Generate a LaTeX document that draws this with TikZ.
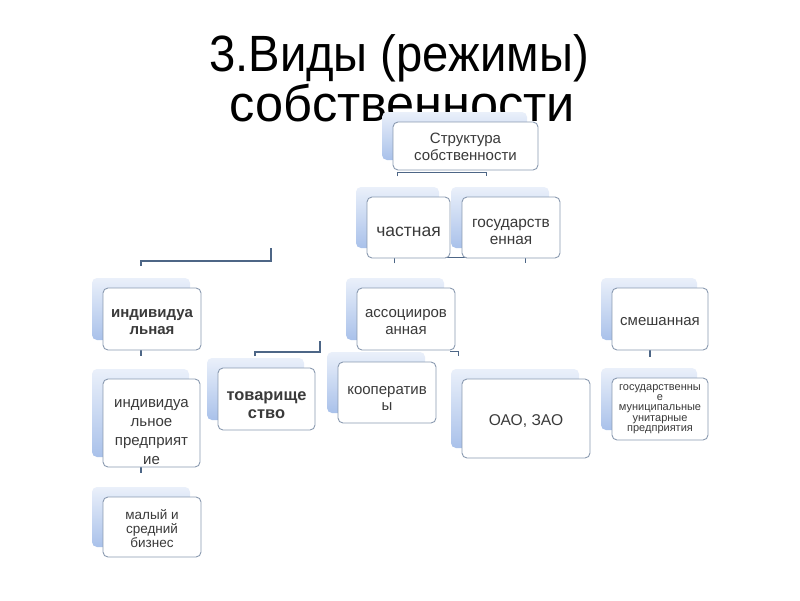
\documentclass[tikz,border=0pt]{standalone}
\usepackage{fontspec}
\setmainfont{Liberation Sans}
\usetikzlibrary{calc}
\definecolor{bkBlue}{HTML}{A9C1EA}
\definecolor{bkLight}{HTML}{EAF0FA}
\definecolor{frameC}{HTML}{8A9AB0}
\definecolor{connC}{HTML}{4D6686}
\definecolor{txtC}{HTML}{3A3A3A}
\pgfdeclarelayer{bg}
\pgfdeclarelayer{paper}
\pgfsetlayers{paper,bg,main}
\tikzset{
  backbox/.style={rounded corners=5pt, top color=bkLight, bottom color=bkBlue},
  frontbox/.style={draw=frameC, line width=0.9pt, fill=white, rounded corners=5pt, inner sep=0pt},
  lbl/.style={text=txtC, align=center, inner sep=0pt, font=\fontsize{15}{16.5}\selectfont},
  conn/.style={draw=connC, line width=1.6pt},
  titlefont/.style={font=\fontsize{51}{56}\selectfont, anchor=base, inner sep=0pt}
}
% #1 label style, #2 name, #3 text shift, #4-#7 box corners, #8 text
\newcommand\mkbox[8][]{%
  \pgfmathsetmacro\mkbw{#6-#4}%
  \pgfmathsetmacro\mkbh{#7-#5}%
  \pgfmathsetmacro\mkbx{(#4+#6)/2}%
  \pgfmathsetmacro\mkby{(#5+#7)/2}%
  \path[backbox] ($(#4,#5)+(-11,-10)$) rectangle ($(#6,#7)+(-11,-10)$);
  \node[frontbox, minimum width=\mkbw pt, minimum height=\mkbh pt] (#2) at (\mkbx,\mkby) {};
  \node[lbl, #1] (#2-t) at ($(#2.center)+(0,#3)$) {#8};
}
\begin{document}
\begin{tikzpicture}[x=1pt, y=-1pt]
\useasboundingbox (0,0) rectangle (800,600);
\begin{pgfonlayer}{paper}
\fill[white] (0,0) rectangle (800,600);
\end{pgfonlayer}
% title
\node[titlefont, xscale=0.926] (t1) at (399,71.5) {3.Виды (режимы)};
\node[titlefont, xscale=0.99] (t2) at (402.5,121.5) {собственности};
% boxes
\mkbox{s}{1}{393}{122}{538}{170}{Структура\\собственности}
\mkbox[font=\fontsize{17.5}{20}\selectfont]{ch}{4}{367}{197}{450}{258}{частная}
\mkbox[font=\fontsize{15.4}{17}\selectfont]{gs}{4}{462}{197}{560}{258}{государств\\енная}
\mkbox[font=\fontsize{15}{17}\selectfont\bfseries]{ind}{3}{103}{288}{201}{350}{индивидуа\\льная}
\mkbox{ass}{3}{357}{288}{455}{350}{ассоцииров\\анная}
\mkbox{sm}{3}{612}{288}{708}{350}{смешанная}
\mkbox[font=\fontsize{15}{19}\selectfont]{ip}{9}{103}{379}{200}{467}{индивидуа\\льное\\предприят\\ие}
\mkbox[font=\fontsize{16.4}{18}\selectfont\bfseries]{tov}{6}{218}{368}{315}{430}{товарище\\ство}
\mkbox{kp}{6}{338}{362}{436}{423}{кооператив\\ы}
\mkbox[font=\fontsize{15.6}{18}\selectfont]{oao}{3}{462}{379}{590}{458}{ОАО, ЗАО}
\mkbox[font=\fontsize{11}{10.4}\selectfont]{gm}{0}{612}{378}{708}{440}{государственны\\е\\муниципальные\\унитарные\\предприятия}
\mkbox[font=\fontsize{13.5}{14}\selectfont]{mb}{1.5}{103}{497}{201}{557}{малый и\\средний\\бизнес}
% free connector ends
\coordinate (c1) at (141,266);
\coordinate (c2) at (271,248);
\coordinate (e1) at (255,356);
\coordinate (e2) at (320,341);
\begin{pgfonlayer}{bg}
\draw[conn] ($(s.south west)+(5,6)$) -- ($(s.south west)+(5,2)$) -- ($(s.south west)+(94,2)$) -- ($(s.south west)+(94,6)$);
\draw[conn] ($(ch.south west)+(28,5)$) |- ($(gs.south west)+(64,-1)$) -- ++(0,6);
\draw[conn] (c1) -- ++(0,-5) -| (c2);
\draw[conn] ($(ind.south)+(-11,0)$) -- ++(0,6);
\draw[conn] (e1) -- ++(0,-4) -| (e2);
\draw[conn] ($(ass.south east)+(-5,1)$) -- ++(8,0) -- ++(0,5);
\draw[conn] ($(sm.south)+(-10,0)$) -- ++(0,7);
\draw[conn] ($(ip.south)+(-10.5,0)$) -- ++(0,6);
\end{pgfonlayer}
\end{tikzpicture}
\end{document}
